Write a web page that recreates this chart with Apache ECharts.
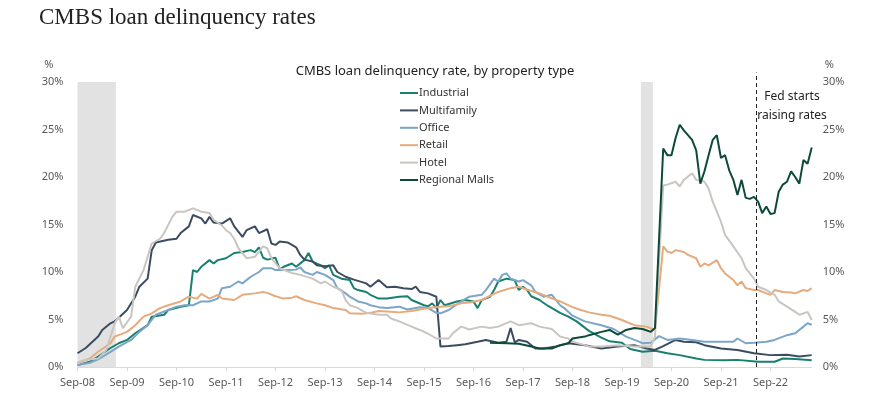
<!DOCTYPE html>
<html>
<head>
<meta charset="utf-8">
<title>CMBS loan delinquency rates</title>
<script src="https://cdn.jsdelivr.net/npm/echarts@6/dist/echarts.min.js"></script>
<style>
  html, body { margin: 0; padding: 0; background: #fff; }
  #chart { width: 870px; height: 400px; }
</style>
</head>
<body>
<div id="chart"></div>
<script>
// x values are months counted from Sep-08 (0 = Sep-08, 12 = Sep-09, ...)
var tickLabels = ['Sep-08', 'Sep-09', 'Sep-10', 'Sep-11', 'Sep-12', 'Sep-13', 'Sep-14',
  'Sep-15', 'Sep-16', 'Sep-17', 'Sep-18', 'Sep-19', 'Sep-20', 'Sep-21', 'Sep-22'];
var lastMonth = 178; // Jul-23

var seriesNames = ['Industrial', 'Multifamily', 'Office', 'Retail', 'Hotel', 'Regional Malls'];

var industrial = [[0,0.2],[3,0.55],[5,1.1],[8,2.0],[10,2.5],[12,2.85],[14,3.55],[17,4.4],[18,5.3],
  [21,5.5],[22,6.0],[25,6.35],[27,6.5],[28,10.2],[29,10.0],[30,10.55],[32,11.25],[33,10.9],[34,11.25],
  [36,11.45],[38,12.0],[40,12.1],[42,12.3],[43,12.1],[44,12.6],[45,11.5],[46,11.3],[48,11.5],[49,10.3],
  [50,10.55],[52,10.9],[53,10.55],[55,11.25],[56,12.0],[57,11.1],[59,10.7],[60,10.4],[61,10.7],[62,9.7],
  [64,9.3],[66,9.15],[67,8.3],[68,8.1],[70,7.9],[71,7.6],[73,7.2],[75,7.2],[78,7.4],[80,7.45],[81,7.05],
  [84,6.5],[85,6.4],[86,6.7],[87,6.2],[88,7.05],[89,6.5],[92,6.9],[94,7.05],[96,6.9],[97,6.2],[98,7.05],
  [100,7.4],[101,8.1],[102,9.0],[104,9.3],[106,9.15],[107,8.1],[108,8.45],[109,8.1],[110,7.45],[112,7.05],
  [114,6.45],[117,5.7],[119,5.3],[121,4.8],[124,3.8],[127,3.1],[129,2.7],[132,2.55],[134,1.9],[137,1.6],
  [140,1.7],[143,1.45],[146,1.25],[150,0.9],[152,0.75],[157,0.7],[160,0.75],[165,0.55],[169,0.55],
  [171,0.9],[174,0.85],[178,0.7]];

var multifamily = [[0,1.45],[2,2.0],[5,3.2],[6,3.9],[8,4.6],[9,4.8],[12,6.0],[14,7.4],[15,8.45],[17,9.3],
  [18,12.3],[19,13.1],[22,13.4],[24,13.5],[25,14.1],[27,14.8],[28,16.0],[30,15.65],[31,15.1],[32,15.8],
  [33,15.2],[35,15.1],[37,15.65],[38,14.8],[40,13.7],[41,14.4],[43,14.8],[44,14.1],[46,14.5],[47,13.0],
  [48,12.85],[49,13.2],[51,13.1],[52,12.85],[53,12.6],[54,11.8],[55,11.3],[57,11.1],[58,10.7],[60,10.6],
  [62,10.7],[63,10.0],[65,9.5],[67,9.2],[70,8.8],[71,8.45],[73,9.15],[75,8.4],[77,8.45],[79,8.3],[81,8.2],
  [82,8.45],[83,7.9],[85,7.75],[87,7.4],[88,2.15],[90,2.2],[92,2.3],[94,2.4],[97,2.65],[99,2.85],[102,2.55],
  [104,2.65],[105,4.1],[106,2.6],[107,2.85],[109,2.65],[111,1.95],[113,1.95],[116,2.15],[119,2.5],[123,2.3],
  [127,1.95],[131,2.15],[135,2.3],[138,1.95],[140,1.8],[142,2.2],[145,2.85],[147,2.65],[150,2.6],[152,2.3],
  [156,1.95],[160,1.8],[164,1.45],[168,1.25],[172,1.3],[175,1.1],[178,1.25]];

var office = [[0,0.2],[3,0.45],[5,0.8],[8,1.6],[10,2.15],[13,2.85],[15,3.7],[17,4.4],[19,5.5],[22,6.0],
  [24,6.35],[26,6.5],[28,6.5],[30,6.9],[32,6.9],[34,7.2],[35,8.3],[37,8.45],[39,9.0],[40,8.8],[42,9.5],
  [44,10.0],[45,10.4],[47,10.4],[48,10.2],[51,10.2],[53,10.25],[54,10.5],[55,10.0],[57,9.7],[58,10.0],
  [60,9.7],[62,9.15],[63,8.3],[65,7.75],[66,7.4],[68,6.9],[70,6.7],[71,6.5],[73,6.3],[75,6.2],[78,6.35],
  [80,6.05],[83,6.3],[85,6.2],[87,5.7],[88,5.65],[90,6.0],[93,6.9],[95,7.4],[98,7.6],[99,8.1],[101,9.3],
  [102,9.0],[103,9.7],[104,9.85],[105,9.3],[107,9.0],[108,9.15],[110,8.6],[111,7.9],[113,7.4],[115,7.6],
  [117,6.5],[118,6.2],[120,5.4],[123,4.8],[127,4.4],[130,4.0],[133,3.2],[136,2.7],[137,2.5],[139,2.55],
  [141,3.25],[143,2.85],[146,3.0],[149,2.85],[152,2.65],[155,2.65],[159,2.65],[160,3.0],[162,2.5],
  [164,2.55],[167,2.65],[169,2.85],[172,3.35],[174,3.55],[176,4.25],[177,4.6],[178,4.45]];

var retail = [[0,0.45],[3,0.9],[5,1.6],[8,2.5],[9,3.2],[12,3.7],[14,4.4],[16,5.3],[18,5.65],[20,6.2],
  [22,6.5],[25,6.9],[27,7.4],[29,7.2],[30,7.7],[32,7.2],[34,7.6],[35,7.2],[38,7.05],[40,7.6],[43,7.75],
  [45,7.9],[46,7.8],[48,7.45],[50,7.2],[52,7.3],[53,7.45],[55,7.05],[58,6.7],[60,6.5],[62,6.2],[65,6.0],
  [66,5.65],[69,5.6],[71,5.7],[73,5.9],[75,5.85],[78,5.75],[81,5.9],[83,6.05],[85,6.2],[88,6.35],[90,6.4],
  [93,6.7],[95,6.8],[98,7.05],[100,7.5],[102,7.9],[105,8.3],[107,8.45],[110,8.0],[112,7.75],[114,7.4],
  [117,6.9],[120,6.3],[122,6.0],[124,5.75],[127,5.5],[129,5.4],[132,4.95],[135,4.4],[138,4.25],[140,3.9],
  [142,12.7],[143,12.15],[144,12.0],[145,12.3],[147,12.1],[148,11.8],[150,11.45],[151,10.55],[152,10.9],
  [153,10.7],[155,11.25],[156,10.4],[157,9.85],[159,9.15],[160,8.6],[161,9.0],[162,8.3],[164,8.1],
  [165,8.1],[167,7.75],[168,7.6],[169,8.1],[171,7.9],[173,7.85],[174,7.75],[176,8.1],[177,8.0],[178,8.3]];

var hotel = [[0,0.4],[2,0.75],[5,0.9],[7,1.8],[9,4.6],[10,5.3],[11,4.1],[13,5.3],[14,8.45],[16,10.2],
  [17,11.6],[18,13.0],[20,13.5],[21,14.1],[23,15.8],[24,16.35],[26,16.35],[28,16.7],[30,16.35],[32,16.2],
  [33,15.5],[35,14.9],[36,14.4],[37,14.1],[38,13.5],[39,12.5],[41,11.45],[43,11.6],[45,12.7],[46,12.5],
  [47,11.45],[49,10.4],[52,9.9],[54,9.7],[57,9.3],[59,8.8],[60,9.0],[62,8.45],[64,8.1],[65,7.05],[66,6.5],
  [68,6.2],[70,5.7],[73,5.5],[75,5.5],[76,5.1],[78,4.8],[81,4.25],[83,3.9],[85,3.5],[87,3.0],[90,3.0],
  [91,3.55],[93,4.25],[95,3.95],[98,4.25],[100,4.1],[102,4.25],[105,4.8],[107,4.4],[110,4.6],[112,4.25],
  [115,4.0],[117,3.2],[119,3.0],[120,2.65],[123,2.3],[124,2.15],[127,2.15],[131,2.3],[135,2.15],[139,2.15],
  [140,3.2],[142,19.1],[143,19.2],[145,19.5],[146,19.0],[147,19.7],[149,20.4],[150,19.7],[152,19.5],
  [153,18.8],[154,17.4],[156,15.3],[157,13.9],[159,12.7],[161,11.45],[162,10.4],[164,9.3],[165,8.45],
  [167,8.1],[169,7.6],[170,6.9],[172,6.35],[174,5.8],[175,5.5],[176,5.65],[177,5.8],[178,4.95]];

var regionalMalls = [[100,2.55],[104,2.5],[107,2.45],[110,2.15],[112,1.95],[115,1.95],[117,2.3],[119,2.5],
  [120,3.0],[123,3.2],[124,3.35],[127,3.7],[129,3.9],[131,3.4],[133,3.9],[135,4.1],[137,4.0],[139,3.7],
  [140,4.1],[142,23.0],[143,22.3],[144,22.3],[145,24.1],[146,25.5],[147,24.9],[148,24.4],[149,23.9],
  [150,22.8],[151,19.3],[152,20.6],[153,22.3],[154,23.9],[155,24.4],[156,22.0],[157,22.3],[158,20.7],
  [159,19.7],[160,18.1],[161,19.7],[162,17.8],[163,17.7],[164,17.9],[165,17.4],[166,16.2],[167,16.9],
  [168,16.1],[169,16.2],[170,18.45],[171,19.2],[172,19.5],[173,20.6],[174,20.0],[175,19.3],[176,21.8],
  [177,21.4],[178,23.1]];

// recessions (shaded) and the Fed's first hike, in the same month units
var recessions = [[0, 9.3], [136.6, 139.5]];
var fedHike = 164.5;

var colors = ['#18806f', '#3c4c60', '#7ba5c9', '#e6ab7c', '#c9c6c1', '#0e4a3b'];
var seriesData = [industrial, multifamily, office, retail, hotel, regionalMalls];

var chart = echarts.init(document.getElementById('chart'));

var lineSeries = seriesNames.map(function (name, i) {
  return {
    name: name,
    type: 'line',
    data: seriesData[i],
    symbol: 'none',
    z: 3,
    lineStyle: { width: 2, color: colors[i] },
    itemStyle: { color: colors[i] }
  };
});

var font = 'Noto Sans';

var option = {
  animation: false,
  backgroundColor: '#fff',
  title: [{
    text: 'CMBS loan delinquency rates',
    left: 34,
    top: 1,
    textStyle: { fontFamily: 'Liberation Serif', fontSize: 23, fontWeight: 'normal', color: '#222' }
  }, {
    text: 'CMBS loan delinquency rate, by property type',
    left: 'center',
    top: 60,
    textStyle: { fontFamily: font, fontSize: 13, fontWeight: 'normal', color: '#222' }
  }],
  legend: {
    data: seriesNames,
    orient: 'vertical',
    left: 395,
    top: 81,
    icon: 'rect',
    itemWidth: 18,
    itemHeight: 2,
    itemGap: 3.4,
    textStyle: { fontFamily: font, fontSize: 11, color: '#333', lineHeight: 14, padding: [0, 0, 0, -4] }
  },
  grid: { left: 77.5, right: 58.3, top: 72.5, bottom: 33 },
  xAxis: {
    type: 'value',
    min: 0,
    max: lastMonth,
    interval: 12,
    axisLine: { show: true, lineStyle: { color: '#d9d9d9' } },
    axisTick: { show: true, length: 4, lineStyle: { color: '#d9d9d9' } },
    splitLine: { show: false },
    axisLabel: {
      margin: 10,
      showMaxLabel: false,
      fontFamily: font,
      fontSize: 11,
      color: '#595959',
      formatter: function (v) { return tickLabels[v / 12] || ''; }
    }
  },
  yAxis: [{
    type: 'value',
    min: 0,
    max: 31,
    interval: 5,
    name: '%',
    nameLocation: 'end',
    nameGap: 2,
    nameTextStyle: { fontFamily: font, fontSize: 11, color: '#595959', align: 'right', padding: [0, 24, 0, 0] },
    axisLine: { show: false },
    axisTick: { show: false },
    splitLine: { show: false },
    axisLabel: { margin: 14, showMaxLabel: false, fontFamily: font, fontSize: 11, color: '#595959', formatter: '{value}%' }
  }, {
    type: 'value',
    min: 0,
    max: 31,
    interval: 5,
    position: 'right',
    name: '%',
    nameLocation: 'end',
    nameGap: 2,
    nameTextStyle: { fontFamily: font, fontSize: 11, color: '#595959', align: 'left', padding: [0, 0, 0, 13] },
    axisLine: { show: false },
    axisTick: { show: false },
    splitLine: { show: false },
    axisLabel: { margin: 11, showMaxLabel: false, fontFamily: font, fontSize: 11, color: '#595959', formatter: '{value}%' }
  }],
  graphic: [{
    type: 'text',
    x: 792,
    y: 87,
    style: {
      text: 'Fed starts\nraising rates',
      fontFamily: font,
      fontSize: 12,
      lineHeight: 19,
      align: 'center',
      verticalAlign: 'top',
      fill: '#222'
    }
  }],
  series: [{
    name: 'markers',
    type: 'line',
    data: [],
    z: 1,
    silent: true,
    markArea: {
      silent: true,
      itemStyle: { color: '#e2e2e2' },
      data: recessions.map(function (r) {
        return [{ coord: [r[0], 0] }, { coord: [r[1], 30] }];
      })
    },
    markLine: {
      silent: true,
      symbol: 'none',
      label: { show: false },
      lineStyle: { color: '#222', type: [4, 3], width: 1 },
      data: [[{ coord: [fedHike, 0] }, { coord: [fedHike, 31] }]]
    }
  }].concat(lineSeries)
};

chart.setOption(option);
</script>
</body>
</html>
